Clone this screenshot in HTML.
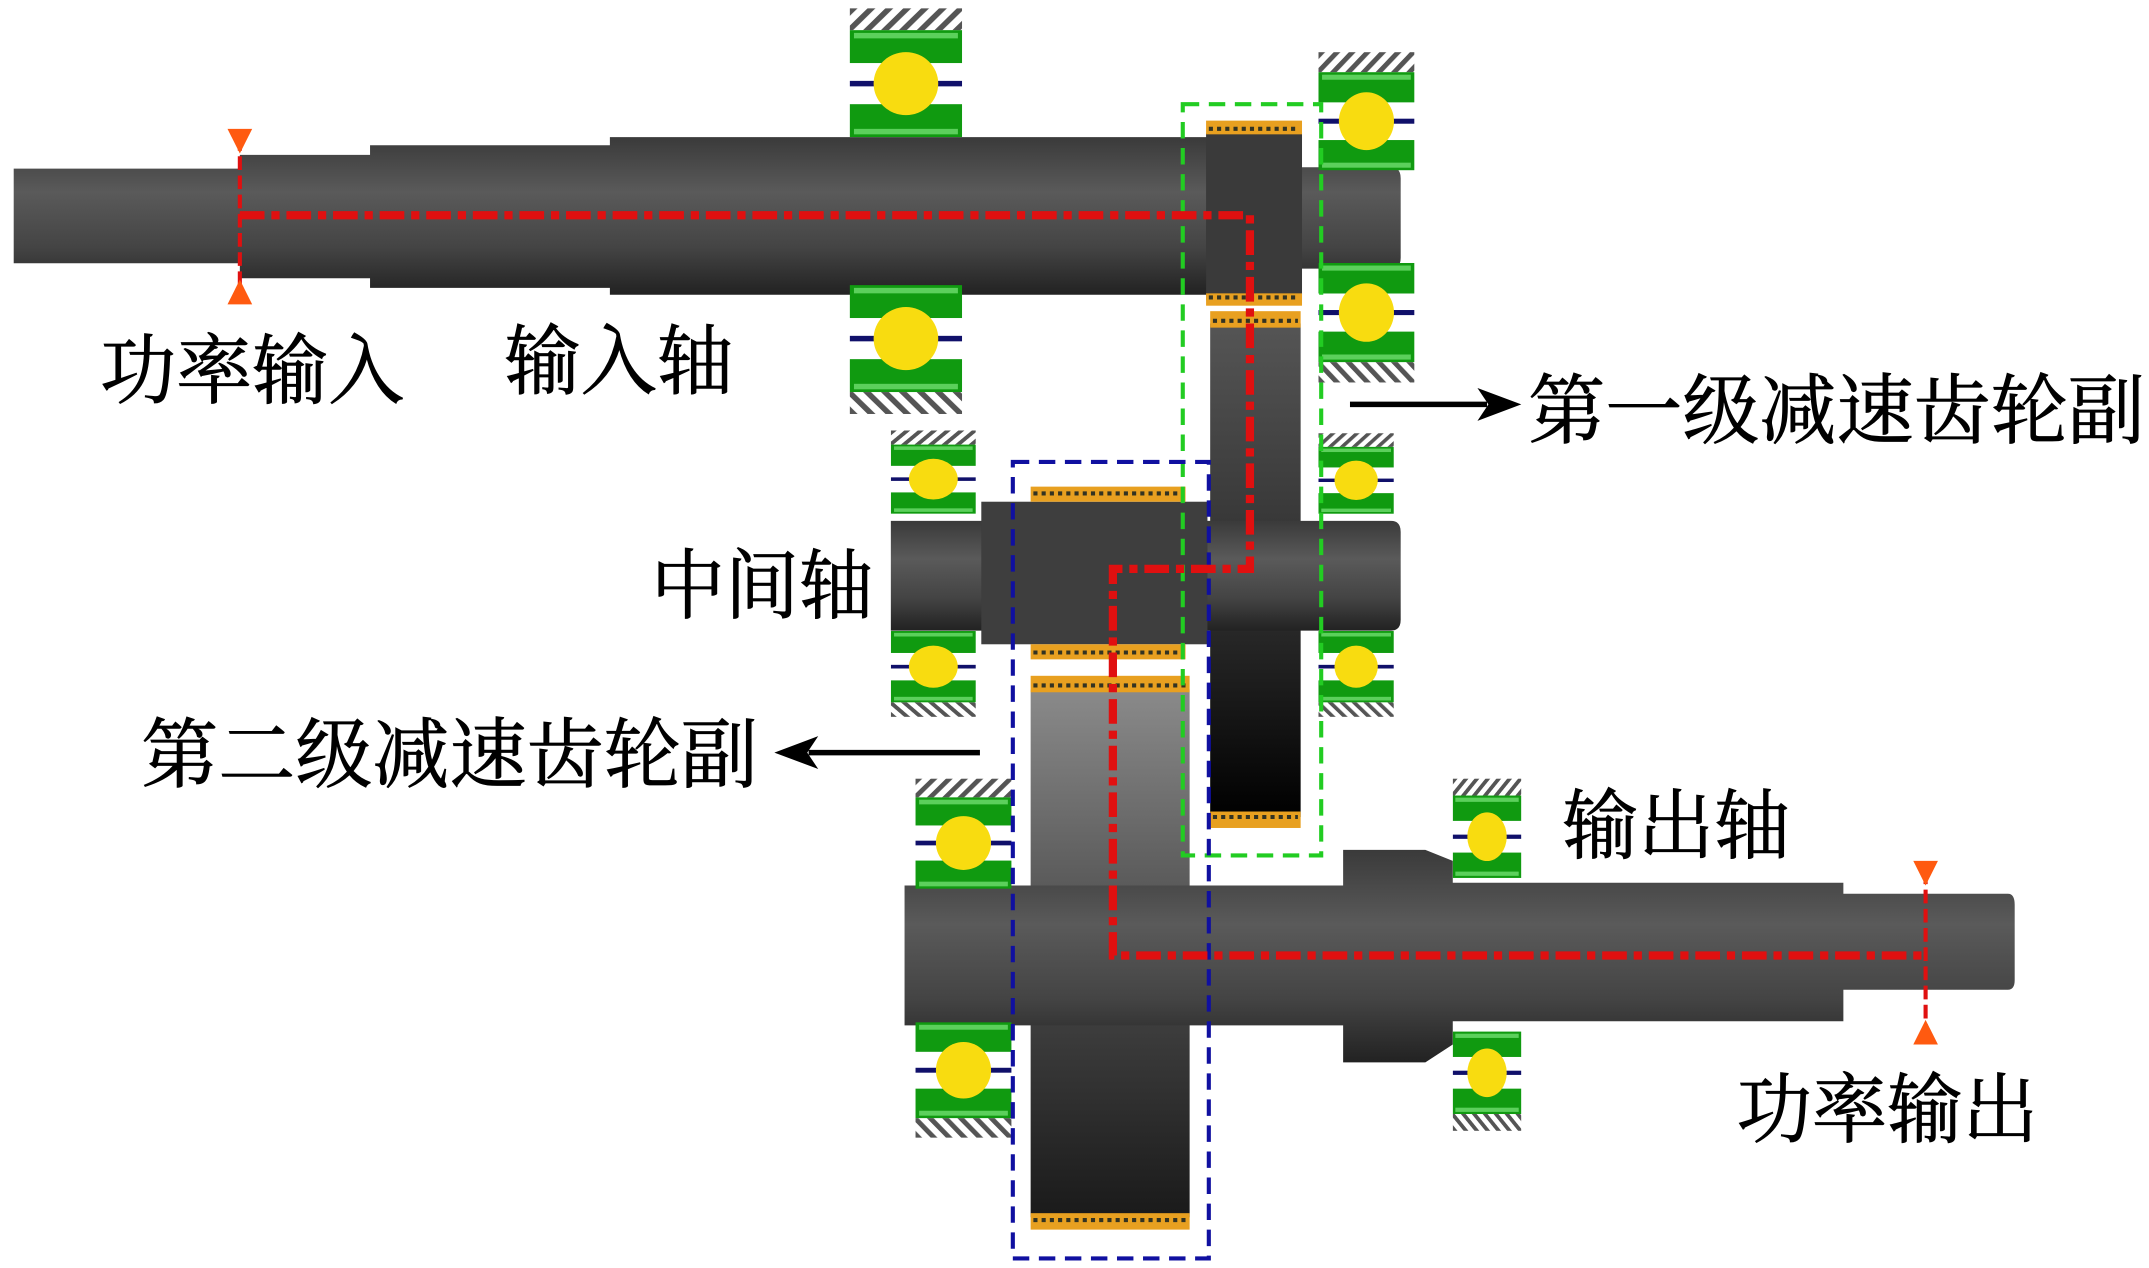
<!DOCTYPE html>
<html><head><meta charset="utf-8"><style>
html,body{margin:0;padding:0;background:#fff;}
svg{display:block;}
text{font-family:"Liberation Serif","Noto Serif CJK SC","Noto Sans CJK SC",serif;font-size:56px;fill:#000;stroke:#000;stroke-width:0.6px;}
</style></head><body>
<svg width="2149" height="1268" viewBox="0 0 1568 925" preserveAspectRatio="none" xmlns="http://www.w3.org/2000/svg">
<defs>
<linearGradient id="sh" x1="0" y1="0" x2="0" y2="1">
<stop offset="0" stop-color="#3a3a3a"/><stop offset="0.35" stop-color="#5a5a5a"/><stop offset="0.7" stop-color="#444"/><stop offset="1" stop-color="#222"/></linearGradient>
<linearGradient id="g1" x1="0" y1="0" x2="0" y2="1">
<stop offset="0" stop-color="#555"/><stop offset="0.6" stop-color="#2a2a2a"/><stop offset="1" stop-color="#000"/></linearGradient>
<linearGradient id="g2" x1="0" y1="0" x2="0" y2="1">
<stop offset="0" stop-color="#8a8a8a"/><stop offset="0.5" stop-color="#4a4a4a"/><stop offset="1" stop-color="#1a1a1a"/></linearGradient>
<pattern id="hatch" width="9" height="9" patternUnits="userSpaceOnUse" patternTransform="rotate(45)">
<rect width="9" height="9" fill="#fff"/><rect width="4" height="9" fill="#555"/></pattern>
<symbol id="brg" viewBox="0 0 80 96" preserveAspectRatio="none">
<rect x="0" y="0" width="80" height="16" fill="url(#hatch)"/>
<rect x="0" y="16" width="80" height="24" fill="#109a10"/>
<rect x="3" y="18" width="74" height="4" fill="#5cd05c"/>
<rect x="0" y="70" width="80" height="24" fill="#109a10"/>
<rect x="3" y="88" width="74" height="4" fill="#5cd05c"/>
<rect x="0" y="53" width="80" height="4" fill="#10106a"/>
<circle cx="40" cy="55" r="23" fill="#f8dc10"/>
</symbol>
</defs>

<!-- input shaft -->
<path d="M10 123 H175 V113 H270 V106 H445 V100 H950 V122 H1015 Q1022 122 1022 130 V188 Q1022 196 1015 196 H950 V215 H445 V210 H270 V203 H175 V192 H10 Z" fill="url(#sh)"/>
<rect x="880" y="97" width="70" height="122" fill="#3a3a3a"/>
<rect x="880" y="88" width="70" height="10" fill="#e8a020"/>
<line x1="882" y1="94" x2="948" y2="94" stroke="#332" stroke-width="3" stroke-dasharray="3 3"/>
<rect x="880" y="214" width="70" height="9" fill="#e8a020"/>
<line x1="882" y1="217" x2="948" y2="217" stroke="#332" stroke-width="3" stroke-dasharray="3 3"/>

<!-- first-stage driven gear -->
<rect x="883" y="236" width="66" height="360" fill="url(#g1)"/>
<rect x="883" y="227" width="66" height="12" fill="#e8a020"/>
<line x1="885" y1="234" x2="947" y2="234" stroke="#332" stroke-width="3" stroke-dasharray="3 3"/>
<rect x="883" y="592" width="66" height="12" fill="#e8a020"/>
<line x1="885" y1="596" x2="947" y2="596" stroke="#332" stroke-width="3" stroke-dasharray="3 3"/>

<!-- intermediate shaft -->
<path d="M650 380 H1015 Q1022 380 1022 388 V452 Q1022 460 1015 460 H650 Z" fill="url(#sh)"/>
<rect x="716" y="366" width="165" height="104" fill="#3e3e3e"/>
<rect x="752" y="355" width="113" height="11" fill="#e8a020"/>
<line x1="754" y1="360" x2="863" y2="360" stroke="#332" stroke-width="3" stroke-dasharray="3 3"/>
<rect x="752" y="470" width="113" height="11" fill="#e8a020"/>
<line x1="754" y1="476" x2="863" y2="476" stroke="#332" stroke-width="3" stroke-dasharray="3 3"/>

<!-- output gear -->
<rect x="752" y="503" width="116" height="385" fill="url(#g2)"/>
<rect x="752" y="493" width="116" height="12" fill="#e8a020"/>
<line x1="754" y1="500" x2="866" y2="500" stroke="#332" stroke-width="3" stroke-dasharray="3 3"/>
<rect x="752" y="885" width="116" height="12" fill="#e8a020"/>
<line x1="754" y1="890" x2="866" y2="890" stroke="#332" stroke-width="3" stroke-dasharray="3 3"/>

<!-- output shaft -->
<path d="M660 646 H980 V620 H1040 L1060 628 V644 H1345 V652 H1465 Q1470 652 1470 660 V715 Q1470 722 1465 722 H1345 V745 H1060 V762 L1040 775 H980 V748 H660 Z" fill="url(#sh)"/>

<!-- bearings -->
<use href="#brg" x="620" y="6" width="82" height="96"/>
<g transform="translate(0,512) scale(1,-1)"><use href="#brg" x="620" y="210" width="82" height="96"/></g>
<use href="#brg" x="962" y="38" width="70" height="88"/>
<g transform="translate(0,469) scale(1,-1)"><use href="#brg" x="962" y="190" width="70" height="89"/></g>
<use href="#brg" x="650" y="314" width="62" height="62"/>
<g transform="translate(0,982) scale(1,-1)"><use href="#brg" x="650" y="459" width="62" height="64"/></g>
<use href="#brg" x="962" y="316" width="55" height="60"/>
<g transform="translate(0,982) scale(1,-1)"><use href="#brg" x="962" y="459" width="55" height="64"/></g>
<use href="#brg" x="668" y="568" width="70" height="82"/>
<g transform="translate(0,1574) scale(1,-1)"><use href="#brg" x="668" y="744" width="70" height="86"/></g>
<use href="#brg" x="1060" y="568" width="50" height="74"/>
<g transform="translate(0,1576) scale(1,-1)"><use href="#brg" x="1060" y="751" width="50" height="74"/></g>

<!-- dashed boxes -->
<rect x="863" y="76" width="101" height="548" fill="none" stroke="#22cc22" stroke-width="3" stroke-dasharray="12 7"/>
<rect x="739" y="337" width="143" height="581" fill="none" stroke="#1010a0" stroke-width="3" stroke-dasharray="12 7"/>

<!-- power path -->
<path d="M175 157 H912 V415 H812 V697 H1405" fill="none" stroke="#e01010" stroke-width="6" stroke-dasharray="18 5 6 5"/>
<line x1="175" y1="100" x2="175" y2="215" stroke="#e01010" stroke-width="3" stroke-dasharray="10 4"/>
<polygon points="166,94 184,94 175,112" fill="#ff5a10"/>
<polygon points="166,222 184,222 175,204" fill="#ff5a10"/>
<line x1="1405" y1="635" x2="1405" y2="755" stroke="#e01010" stroke-width="3" stroke-dasharray="10 4"/>
<polygon points="1396,628 1414,628 1405,646" fill="#ff5a10"/>
<polygon points="1396,762 1414,762 1405,744" fill="#ff5a10"/>

<!-- arrows -->
<line x1="985" y1="295" x2="1085" y2="295" stroke="#000" stroke-width="4"/>
<polygon points="1110,295 1078,283 1086,295 1078,307" fill="#000"/>
<line x1="715" y1="549" x2="590" y2="549" stroke="#000" stroke-width="4"/>
<polygon points="565,549 597,537 589,549 597,561" fill="#000"/>

<!-- labels -->
<text x="73" y="290" textLength="222" lengthAdjust="spacingAndGlyphs">功率输入</text>
<text x="368" y="283" textLength="167" lengthAdjust="spacingAndGlyphs">输入轴</text>
<text x="1115" y="319" textLength="450" lengthAdjust="spacingAndGlyphs">第一级减速齿轮副</text>
<text x="475" y="447" textLength="162" lengthAdjust="spacingAndGlyphs">中间轴</text>
<text x="103" y="570" textLength="450" lengthAdjust="spacingAndGlyphs">第二级减速齿轮副</text>
<text x="1140" y="622" textLength="166" lengthAdjust="spacingAndGlyphs">输出轴</text>
<text x="1267" y="829" textLength="220" lengthAdjust="spacingAndGlyphs">功率输出</text>
</svg>
</body></html>
